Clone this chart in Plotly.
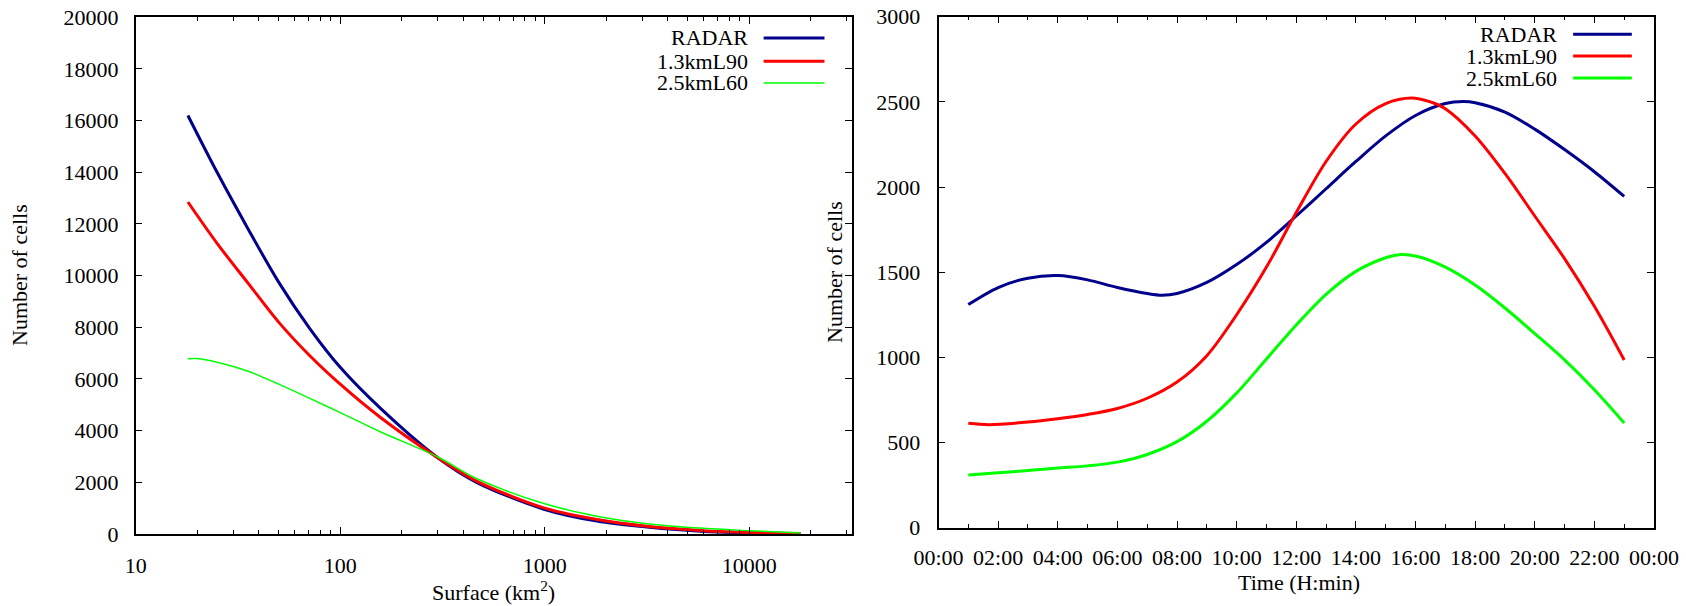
import plotly.graph_objects as go

# ---- Left panel: number of cells versus cell surface (km^2) ----
radar_surf = [18, 25, 35.5, 50, 71, 100, 158, 300, 464, 1000, 1800, 3160, 6000, 10000, 17800]
radar_cells = [16200, 14000, 11800, 9750, 7950, 6450, 4850, 2950, 2000, 950, 500, 270, 100, 45, 10]

l90_surf = [18, 25, 35.5, 50, 71, 100, 158, 300, 464, 1000, 1800, 3160, 6000, 10000, 17800]
l90_cells = [12850, 11250, 9700, 8200, 6900, 5800, 4500, 2950, 2050, 1000, 560, 300, 130, 60, 15]

l60_surf = [18, 20, 25, 35.5, 50, 71, 100, 158, 300, 464, 1000, 1800, 3160, 6000, 10000, 17800]
l60_cells = [6780, 6790, 6650, 6300, 5800, 5250, 4700, 3950, 2980, 2150, 1170, 690, 400, 220, 130, 40]

# ---- Right panel: number of cells versus time of day (hours) ----
radar_hour = [1, 2, 3, 4, 5, 6, 7, 7.5, 8, 9, 10, 11, 12, 13, 14, 15, 16, 17, 17.6, 18, 19, 20, 21, 22, 23]
radar_count = [1310, 1410, 1465, 1480, 1455, 1410, 1375, 1365, 1375, 1440, 1545, 1675, 1830, 1990,
               2150, 2300, 2420, 2490, 2502, 2495, 2440, 2340, 2220, 2090, 1945]

l90_hour = [1, 1.7, 3, 4, 5, 6, 7, 8, 9, 10, 11, 12, 13, 14, 15, 15.87, 16.5, 17, 18, 19, 20, 21, 22, 23]
l90_count = [613, 605, 620, 640, 665, 700, 760, 855, 1010, 1250, 1530, 1850, 2150, 2370, 2490, 2523,
             2500, 2460, 2300, 2080, 1830, 1580, 1300, 985]

l60_hour = [1, 2, 3, 4, 5, 6, 7, 8, 9, 10, 11, 12, 13, 14, 15, 15.5, 16, 17, 18, 19, 20, 21, 22, 23]
l60_count = [309, 322, 336, 350, 363, 385, 430, 505, 625, 790, 990, 1190, 1370, 1505, 1585, 1604,
             1595, 1530, 1425, 1290, 1140, 985, 810, 615]

series_names = ["RADAR", "1.3kmL90", "2.5kmL60"]
series_colors = ["#00008b", "#ff0000", "#00ff00"]

time_tickvals = [0, 2, 4, 6, 8, 10, 12, 14, 16, 18, 20, 22, 24]
time_ticktext = ["00:00", "02:00", "04:00", "06:00", "08:00", "10:00", "12:00",
                 "14:00", "16:00", "18:00", "20:00", "22:00", "00:00"]

FONT = "Liberation Serif, Times New Roman, Times, serif"
FS = 22
W, H = 1686, 606

fig = go.Figure()

left_widths = [3, 3, 1.5]
right_widths = [3, 3, 3]
left_data = [(radar_surf, radar_cells), (l90_surf, l90_cells), (l60_surf, l60_cells)]
right_data = [(radar_hour, radar_count), (l90_hour, l90_count), (l60_hour, l60_count)]

for (xs, ys), name, color, w in zip(left_data, series_names, series_colors, left_widths):
    fig.add_trace(go.Scatter(x=xs, y=ys, mode="lines", name=name,
                             line=dict(color=color, width=w, shape="spline", smoothing=0.9),
                             xaxis="x", yaxis="y", showlegend=False))

for (xs, ys), name, color, w in zip(right_data, series_names, series_colors, right_widths):
    fig.add_trace(go.Scatter(x=xs, y=ys, mode="lines", name=name,
                             line=dict(color=color, width=w, shape="spline", smoothing=0.9),
                             xaxis="x2", yaxis="y2", showlegend=False))


# pixel-based panel frames (margins are zero, so paper fractions map straight to pixels)
def xdom(a, b):
    return [a / W, b / W]


def ydom(top, bottom):
    return [1 - bottom / H, 1 - top / H]


axis_common = dict(showline=True, linecolor="black", linewidth=1.5, mirror="ticks",
                   ticks="inside", tickcolor="black", tickwidth=1.2, showgrid=False,
                   zeroline=False, automargin=False,
                   tickfont=dict(family=FONT, size=FS, color="black"))
title_font = dict(family=FONT, size=FS, color="black")

fig.update_layout(
    width=W, height=H, autosize=False,
    margin=dict(l=0, r=0, t=0, b=0, pad=0),
    paper_bgcolor="white", plot_bgcolor="white",
    font=dict(family=FONT, color="black"),
    xaxis=dict(domain=xdom(135.7, 851.7), anchor="y", type="log",
               range=[1, 4.501], tickvals=[10, 100, 1000, 10000],
               ticktext=["10", "100", "1000", "10000"], ticklen=7,
               minor=dict(ticks="inside", ticklen=4, tickcolor="black", tickwidth=1,
                          tickvals=[m * d for d in (10, 100, 1000, 10000) for m in range(2, 10)]),
               ticklabelstandoff=11, **axis_common),
    yaxis=dict(domain=ydom(17.3, 534), anchor="x", range=[0, 20000], dtick=2000,
               tickformat="d", ticklen=7, ticklabelstandoff=11, **axis_common),
    xaxis2=dict(domain=xdom(938.5, 1654), anchor="y2", range=[0, 24],
                tickvals=time_tickvals, ticktext=time_ticktext, ticklen=7,
                minor=dict(ticks="inside", ticklen=4, dtick=1, tickcolor="black", tickwidth=1),
                ticklabelstandoff=9, **axis_common),
    yaxis2=dict(domain=ydom(16.7, 527.7), anchor="x2", range=[0, 3000], dtick=500,
                tickformat="d", ticklen=7, ticklabelstandoff=12, **axis_common),
)

# axis titles
titles = [
    (19, 275, "Number of cells", -90),
    (834, 272, "Number of cells", -90),
    (493, 591, "Surface (km<sup>2</sup>)", 0),
    (1299, 582, "Time (H:min)", 0),
]
for px, py, text, angle in titles:
    fig.add_annotation(x=px / W, y=1 - py / H, xref="paper", yref="paper", text=text,
                       textangle=angle, showarrow=False, xanchor="center", yanchor="middle",
                       font=title_font)

# in-plot keys: label on the left, line sample on the right
key_specs = [
    dict(xa="x", ya="y", text_x=0.858, line_x=(0.877, 0.962), rows=(0.960, 0.915, 0.873), widths=left_widths),
    dict(xa="x2", ya="y2", text_x=0.867, line_x=(0.887, 0.969), rows=(0.9656, 0.923, 0.880), widths=right_widths),
]
for spec in key_specs:
    for name, color, row, w in zip(series_names, series_colors, spec["rows"], spec["widths"]):
        fig.add_annotation(x=spec["text_x"], y=row, xref=spec["xa"] + " domain", yref=spec["ya"] + " domain",
                           text=name, showarrow=False, xanchor="right", yanchor="middle",
                           font=dict(family=FONT, size=FS, color="black"))
        fig.add_shape(type="line", x0=spec["line_x"][0], x1=spec["line_x"][1], y0=row, y1=row,
                      xref=spec["xa"] + " domain", yref=spec["ya"] + " domain",
                      line=dict(color=color, width=w))

fig.write_html("out.html")
